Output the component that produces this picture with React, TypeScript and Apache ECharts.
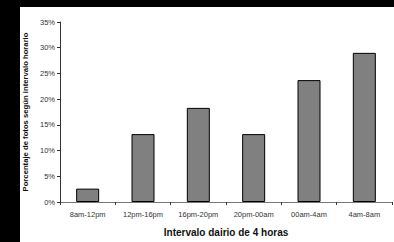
import React, { useEffect, useRef } from "react";
import * as echarts from "echarts";

const categories = ["8am-12pm", "12pm-16pm", "16pm-20pm", "20pm-00am", "00am-4am", "4am-8am"];
const values = [2.6, 13.2, 18.3, 13.2, 23.7, 29.0];
const yTicks = [0, 5, 10, 15, 20, 25, 30, 35];
const xTitle = "Intervalo dairio de 4 horas";
const yTitle = "Porcentaje de fotos según intervalo horario";

export default function App() {
  const ref = useRef<HTMLDivElement>(null);
  useEffect(() => {
    const chart = echarts.init(ref.current!, null, { renderer: "svg" });
    chart.setOption({
      animation: false,
      backgroundColor: "#000000",
      textStyle: { fontFamily: "Liberation Sans, Arial, sans-serif" },
      graphic: [
        { type: "rect", shape: { x: 20, y: 7, width: 374, height: 235 }, style: { fill: "#ffffff" }, z: -10 },
      ],
      grid: { left: 60, top: 22, right: 2, bottom: 36 },
      xAxis: {
        type: "category",
        data: categories,
        axisLine: { lineStyle: { color: "#777", width: 1 } },
        axisTick: { show: true, length: 3, lineStyle: { color: "#333" } },
        axisLabel: { fontSize: 7.5, color: "#333", margin: 8 },
        name: xTitle,
        nameLocation: "middle",
        nameGap: 25,
        nameTextStyle: { fontSize: 10, fontWeight: "bold", color: "#111" },
      },
      yAxis: {
        type: "value",
        min: yTicks[0],
        max: yTicks[yTicks.length - 1],
        interval: 5,
        axisLine: { show: true, lineStyle: { color: "#333", width: 1 } },
        axisTick: { show: true, length: 3, lineStyle: { color: "#333" } },
        splitLine: { show: false },
        axisLabel: { fontSize: 7.5, color: "#333", margin: 5, formatter: "{value}%" },
        name: yTitle,
        nameLocation: "middle",
        nameGap: 25,
        nameRotate: 90,
        nameTextStyle: { fontSize: 7.7, fontWeight: "bold", color: "#111" },
      },
      series: [
        {
          type: "bar",
          data: values,
          barWidth: 23,
          itemStyle: { color: "#808080", borderColor: "#000", borderWidth: 1 },
        },
      ],
    });
    return () => chart.dispose();
  }, []);
  return (
    <div
      ref={ref}
      style={{ position: "fixed", left: 0, top: 0, width: 394, height: 242, background: "#000" }}
    />
  );
}
